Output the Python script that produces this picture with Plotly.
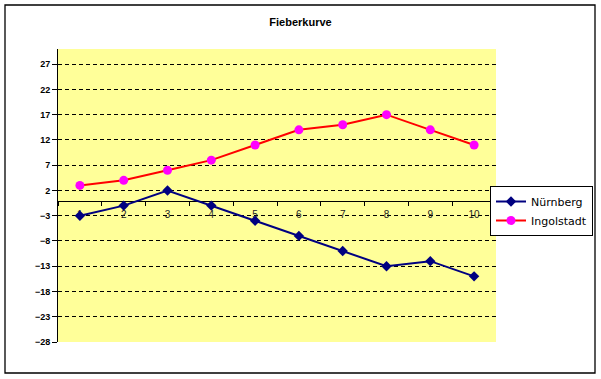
import plotly.graph_objects as go

categories = ["1", "2", "3", "4", "5", "6", "7", "8", "9", "10"]
nuernberg = [-3, -1, 2, -1, -4, -7, -10, -13, -12, -15]
ingolstadt = [3, 4, 6, 8, 11, 14, 15, 17, 14, 11]
y_min, y_max = -28, 30
y_tick_start, y_tick_step = -28, 5

W, H = 601, 379
ml, mr, mt, mb = 58, 105, 49, 37
pw, ph = W - ml - mr, H - mt - mb

fig = go.Figure()
fig.add_trace(go.Scatter(
    x=categories, y=nuernberg, name="Nürnberg", mode="lines+markers",
    line=dict(color="#000080", width=2),
    marker=dict(symbol="diamond", size=8, color="#000080"),
))
fig.add_trace(go.Scatter(
    x=categories, y=ingolstadt, name="Ingolstadt", mode="lines+markers",
    line=dict(color="#FF0000", width=2),
    marker=dict(symbol="circle", size=9, color="#FF00FF"),
))

# outer border (in paper coordinates of plot area)
def px_x(p):
    return (p - ml) / pw

def px_y(p):
    return (H - mb - p) / ph

fig.add_shape(type="rect", xref="paper", yref="paper",
              x0=px_x(5), x1=px_x(595), y0=px_y(373), y1=px_y(5),
              line=dict(color="black", width=1.3), fillcolor="rgba(0,0,0,0)", layer="below")

fig.update_layout(
    width=W, height=H,
    margin=dict(l=ml, r=mr, t=mt, b=mb, autoexpand=False),
    paper_bgcolor="white",
    plot_bgcolor="#FFFF99",
    font=dict(family="Liberation Sans, Arial, sans-serif", color="black"),
    title=dict(text="<b>Fieberkurve</b>", x=0.5, xref="container", xanchor="center",
               y=1 - 22 / H, yref="container", yanchor="middle",
               font=dict(size=11, color="black")),
    showlegend=True,
    legend=dict(xref="container", yref="container",
                x=490 / W, y=1 - 186 / H, xanchor="left", yanchor="top",
                bgcolor="white", bordercolor="black", borderwidth=1,
                font=dict(family="DejaVu Sans, sans-serif", size=11, color="black"),
                tracegroupgap=0),
    xaxis=dict(
        type="category", range=[-0.5, len(categories) - 0.5],
        anchor="free", position=(0 - y_min) / (y_max - y_min),
        showline=True, linecolor="black", linewidth=1,
        ticks="outside", tickson="boundaries", ticklen=4, tickcolor="black",
        ticklabelstandoff=4,
        showgrid=False, zeroline=False, layer="below traces",
        tickfont=dict(size=10, color="#222"),
    ),
    yaxis=dict(
        range=[y_min, y_max], tick0=y_tick_start, dtick=y_tick_step,
        showline=True, linecolor="black", linewidth=1,
        ticks="outside", ticklen=5, tickcolor="black",
        showgrid=True, gridcolor="black", gridwidth=1, griddash="4px,3px",
        zeroline=False,
        tickfont=dict(size=9, color="black", weight="bold"),
    ),
)

fig.write_html("out.html", config={"displayModeBar": False},
               post_script="document.body.style.margin='0';")
